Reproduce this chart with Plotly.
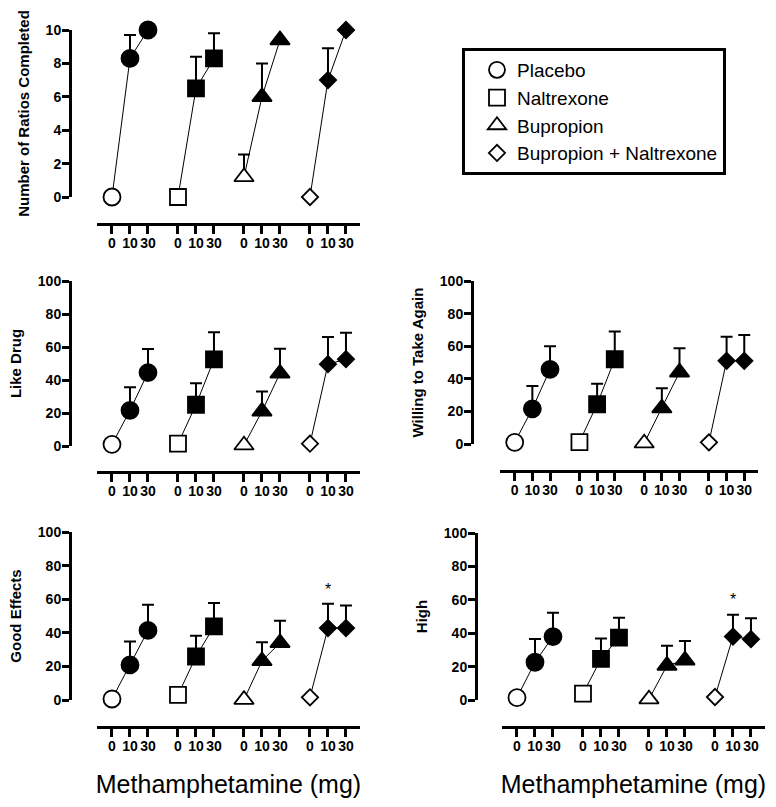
import plotly.graph_objects as go

groups = ["Placebo", "Naltrexone", "Bupropion", "Bupropion + Naltrexone"]
symbols = ["circle", "square", "triangle-up", "diamond"]
dose_labels = ["0", "10", "30"]

# means and upper error (SEM) per group, dose 0 / 10 / 30 mg
ratios_mean = [[0, 8.3, 10], [0, 6.5, 8.3], [1.2, 6.0, 9.4], [0, 7.0, 10]]
ratios_err = [[0, 1.4, 0], [0, 1.9, 1.5], [1.35, 2.0, 0], [0, 1.9, 0]]

like_mean = [[1, 21.6, 44.5], [1.4, 25, 52.5], [0.5, 21, 44], [1.4, 49.6, 52.6]]
like_err = [[0, 14, 14.3], [0, 13, 16.5], [0, 12, 15], [0, 16.4, 16]]

again_mean = [[1, 21.6, 45.8], [1.2, 24.4, 52], [0.5, 22, 44], [1, 51, 51]]
again_err = [[0, 14, 14.2], [0, 12.5, 17], [0, 12.2, 14.7], [0, 14.8, 15.8]]

good_mean = [[0.6, 20.9, 41.4], [3, 25.9, 43.8], [0.2, 23.3, 34], [1.6, 42.8, 42.8]]
good_err = [[0, 13.9, 15.3], [0, 12.3, 13.9], [0, 11.1, 13.2], [0, 14.5, 13.5]]

high_mean = [[1.4, 22.6, 38], [3.8, 24.6, 37.4], [0.5, 20.6, 23.8], [1.8, 38, 36.4]]
high_err = [[0, 14, 14.3], [0, 12.2, 11.9], [0, 11.9, 11.6], [0, 13, 12.6]]

W, H = 776, 807
FONT = "Arial, Liberation Sans, Helvetica, sans-serif"

def fx(px):
    return px / W

def fy(py):
    return 1 - py / H

# (title, means, errors, ymax, dtick, xdom px, ydom px (top, bottom), y-axis x px, x-axis y px, star y)
panels = [
    ("Number of Ratios Completed", ratios_mean, ratios_err, 10, 2, (97, 360), (30, 197), 70, 224, None),
    ("Like Drug", like_mean, like_err, 100, 20, (97, 360), (281, 446), 70, 472, None),
    ("Willing to Take Again", again_mean, again_err, 100, 20, (500, 758), (281, 444), 472, 471, None),
    ("Good Effects", good_mean, good_err, 100, 20, (97, 360), (532, 700), 70, 727, 66),
    ("High", high_mean, high_err, 100, 20, (502, 765), (533, 700), 476, 727, 60),
]
sizes = [17, 16, 17, 12.5]

group_step = 3.667
xpos = [[g * group_step + d for d in range(3)] for g in range(4)]
tickvals = [x for row in xpos for x in row]
ticktext = dose_labels * 4

fig = go.Figure()
annotations = []
for p, (title, means, errs, ymax, dtick, xd, yd, yx, xy, star) in enumerate(panels):
    n = "" if p == 0 else str(p + 1)
    xa, ya = "x" + n, "y" + n
    for g in range(4):
        fig.add_trace(go.Scatter(
            x=xpos[g], y=means[g], xaxis=xa, yaxis=ya, mode="lines",
            line=dict(color="black", width=1), showlegend=False, hoverinfo="skip"))
        fig.add_trace(go.Scatter(
            x=xpos[g], y=means[g], xaxis=xa, yaxis=ya, mode="markers",
            name=groups[g], legendgroup=groups[g], showlegend=(p == 0),
            cliponaxis=False,
            marker=dict(symbol=symbols[g], size=sizes[g],
                        color=["white", "black", "black"],
                        line=dict(color="black", width=1.8)),
            error_y=dict(type="data", symmetric=False, array=errs[g],
                         arrayminus=[0, 0, 0], color="black", thickness=2, width=6)))
    axis_font = dict(family=FONT, size=14, color="black", weight="bold")
    xaxis = dict(domain=[fx(xd[0]), fx(xd[1])], anchor="free", position=fy(xy),
                 range=[-0.833, 13.78], showline=True, linewidth=3, linecolor="black",
                 ticks="outside", ticklen=8, tickwidth=2.5, tickcolor="black",
                 tickvals=tickvals, ticktext=ticktext, tickfont=axis_font, tickangle=0,
                 ticklabelstandoff=-3,
                 showgrid=False, zeroline=False, fixedrange=True, automargin=False)
    if p >= 3:
        xaxis["title"] = dict(text="Methamphetamine (mg)", standoff=22,
                              font=dict(family=FONT, size=25, color="black"))
    yaxis = dict(domain=[fy(yd[1]), fy(yd[0])], anchor="free", position=fx(yx),
                 range=[0, ymax], dtick=dtick, showline=True, linewidth=3,
                 linecolor="black", ticks="outside", ticklen=7, tickwidth=2.5,
                 tickcolor="black", tickfont=axis_font, ticklabelstandoff=-2,
                 showgrid=False, zeroline=False, fixedrange=True, automargin=False,
                 title=dict(text=title, standoff=11,
                            font=dict(family=FONT, size=15, color="black", weight="bold")))
    fig.layout["xaxis" + n] = xaxis
    fig.layout["yaxis" + n] = yaxis
    if star is not None:
        annotations.append(dict(x=xpos[3][1], y=star, xref=xa, yref=ya, text="*",
                                showarrow=False, font=dict(family=FONT, size=16, color="black")))

fig.update_layout(
    width=W, height=H, margin=dict(l=0, r=0, t=0, b=0, pad=0),
    plot_bgcolor="white", paper_bgcolor="white",
    annotations=annotations,
    legend=dict(x=fx(462), y=fy(48), xanchor="left", yanchor="top",
                bordercolor="black", borderwidth=3, bgcolor="white",
                font=dict(family=FONT, size=19, color="black"),
                tracegroupgap=0, indentation=12),
)

fig.write_html("out.html", config={"displayModeBar": False},
               post_script="document.body.style.margin='0';")
